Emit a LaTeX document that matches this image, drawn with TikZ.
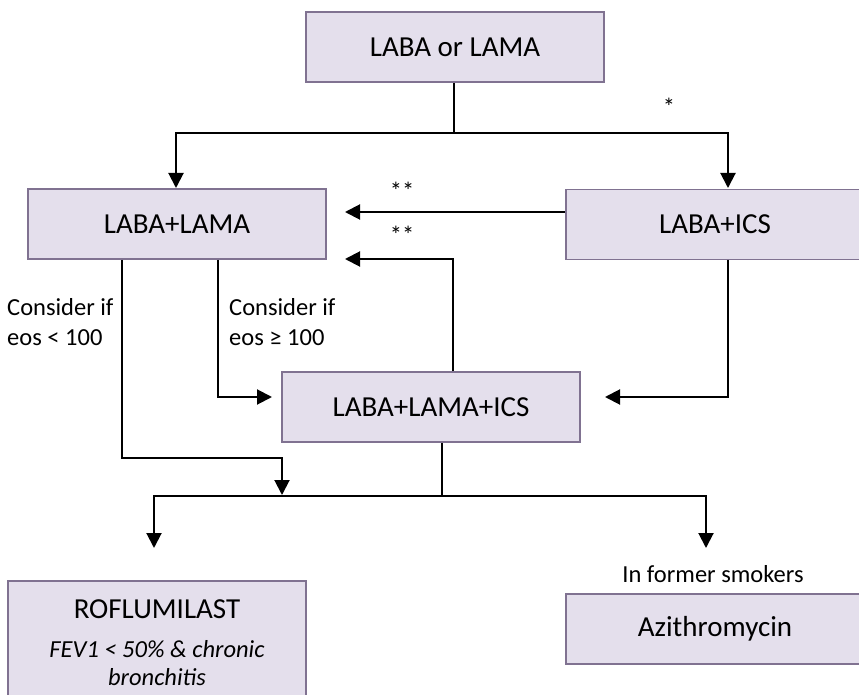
\documentclass[tikz,border=0pt]{standalone}
\usepackage{fontspec}
\setmainfont{Carlito}
\usetikzlibrary{arrows.meta}
\definecolor{boxfill}{RGB}{228,223,236}
\definecolor{boxline}{RGB}{128,114,145}
\tikzset{
  box/.style={draw=boxline, fill=boxfill, line width=1.8pt, minimum width=298pt, minimum height=70pt, inner sep=0pt, align=center, font=\fontsize{29}{35}\selectfont},
  conn/.style={line width=2pt, black},
  arr/.style={conn, -{Triangle[length=15pt,width=15pt]}},
  lbl/.style={inner sep=0pt, font=\fontsize{24.5}{30}\selectfont}
}
\begin{document}
\begin{tikzpicture}[x=1pt,y=-1pt]
\useasboundingbox (0,0) rectangle (859,695);
\clip (0,0) rectangle (859,695);
\node[box] (top) at (455,47) {LABA or LAMA};
\node[box] (ll) at (177,224) {LABA+LAMA};
\node[box] (li) at (715,224.5) {LABA+ICS};
\node[box] (tri) at (431,407) {LABA+LAMA+ICS};
\node[box, minimum height=124pt] (rof) at (157,643) {ROFLUMILAST\\[4pt]{\fontsize{24.5}{29}\selectfont\itshape FEV1 < 50\% \& chronic}\\[-7pt]{\fontsize{24.5}{29}\selectfont\itshape bronchitis}};
\node[box] (azi) at (715,629) {Azithromycin};

\node[lbl] (star) at (669,107) {*};
\node[lbl] (s1) at (402,191) {**};
\node[lbl] (s2) at (402,235) {**};
\node[lbl, anchor=west, align=left] (c1) at (7,322) {Consider if\\eos < 100};
\node[lbl, anchor=west, align=left] (c2) at (229,322) {Consider if\\eos ≥ 100};
\node[lbl] (smk) at (713,574) {In former smokers};

% coordinates
\coordinate (j1) at (454,133);
\coordinate (t1) at (176,188);
\coordinate (t2) at (728,188);
\coordinate (p1) at (345,212);
\coordinate (p2) at (345,259);
\coordinate (p3) at (272,397);
\coordinate (p4) at (605,397);
\coordinate (q1) at (122,458);
\coordinate (q2) at (282,495);
\coordinate (j2) at (442,496);
\coordinate (r1) at (154,548);
\coordinate (r2) at (706,548);

% top split
\draw[conn] (top.south -| j1) -- (j1);
\draw[arr] (j1) -| (t1);
\draw[arr] (j1) -| (t2);
% LABA+ICS -> LABA+LAMA
\draw[arr] (li.west |- p1) -- (p1);
% triple -> LABA+LAMA
\draw[arr] (tri.north -| 453,0) |- (p2);
% LABA+LAMA -> triple
\draw[arr] (ll.south -| 218,0) |- (p3);
% LABA+ICS -> triple
\draw[arr] (li.south -| 728,0) |- (p4);
% LABA+LAMA -> lower
\draw[arr] (ll.south -| q1) |- (q2 |- q1) -- (q2);
% triple -> lower split
\draw[conn] (tri.south -| j2) -- (j2);
\draw[arr] (j2) -| (r1);
\draw[arr] (j2) -| (r2);
\end{tikzpicture}
\end{document}
